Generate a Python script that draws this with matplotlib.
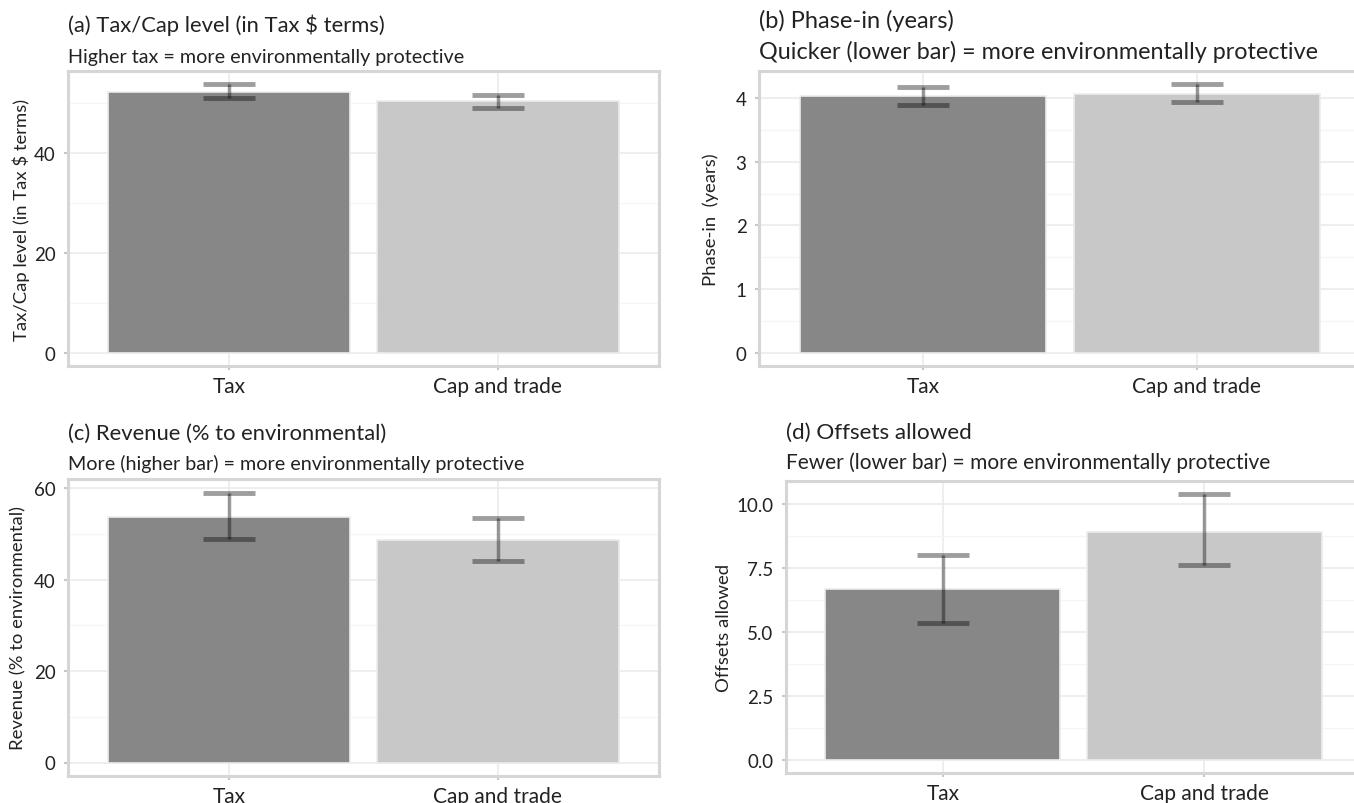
import numpy as np
import matplotlib
matplotlib.use("Agg")
from matplotlib import pyplot as plt
from matplotlib.ticker import MultipleLocator, FormatStrFormatter

plt.rcParams['font.family'] = ['Lato', 'DejaVu Sans']

categories = ['Tax', 'Cap and trade']
bar_colors = ['#878787', '#c8c8c8']

# panel (a) tax/cap level
a_mean = [52.3, 50.5]
a_lo = [51.0, 49.1]
a_hi = [53.8, 51.7]
# panel (b) phase-in
b_mean = [4.04, 4.07]
b_lo = [3.90, 3.95]
b_hi = [4.18, 4.22]
# panel (c) revenue
c_mean = [53.8, 48.6]
c_lo = [49.0, 44.0]
c_hi = [59.1, 53.6]
# panel (d) offsets
d_mean = [6.68, 8.92]
d_lo = [5.37, 7.61]
d_hi = [8.0, 10.39]

panels = [
    ('(a) Tax/Cap level (in Tax $ terms)', 'Higher tax = more environmentally protective',
     'Tax/Cap level (in Tax $ terms)', a_mean, a_lo, a_hi, 20, 10, '%d'),
    ('(b) Phase-in (years)', 'Quicker (lower bar) = more environmentally protective',
     'Phase-in  (years)', b_mean, b_lo, b_hi, 1, 0.5, '%d'),
    ('(c) Revenue (% to environmental)', 'More (higher bar) = more environmentally protective',
     'Revenue (% to environmental)', c_mean, c_lo, c_hi, 20, 10, '%d'),
    ('(d) Offsets allowed', 'Fewer (lower bar) = more environmentally protective',
     'Offsets allowed', d_mean, d_lo, d_hi, 2.5, 1.25, '%.1f'),
]

W, H = 1354, 804
fig = plt.figure(figsize=(W / 100, H / 100), dpi=100)

# box edges in pixels: left, right, top, bottom
boxes = [(68, 659, 72, 367), (759, 1361, 72, 367),
         (68, 659, 480, 777), (786, 1361, 482, 774)]
ylab_x = [21, 711, 18, 724]
title_y = [[25, 57], [21, 52], [434, 464], [433, 463]]
title_size = [15.8, 17, 15.8, 16.2]
sub_size = [14.2, 16.8, 14.2, 15]

for k, (title, sub, ylab, mean, lo, hi, major, minor, fmt) in enumerate(panels):
    l, r, t, b = boxes[k]
    ax = fig.add_axes([l / W, 1 - b / H, (r - l) / W, (b - t) / H])
    x = np.arange(1, len(categories) + 1)
    ax.bar(x, mean, width=0.9, color=bar_colors, edgecolor='#ececec', linewidth=1.2, zorder=2)
    yerr = [np.array(mean) - np.array(lo), np.array(hi) - np.array(mean)]
    ax.errorbar(x, mean, yerr=yerr, fmt='none', ecolor='black', alpha=0.38,
                elinewidth=2.5, capsize=19, capthick=3.5, zorder=3)
    top = max(hi)
    ax.set_xlim(0.4, len(categories) + 0.6)
    ax.set_ylim(-0.05 * top, 1.05 * top)
    ax.set_xticks(x)
    ax.set_xticklabels(categories, fontsize=15)
    ax.yaxis.set_major_locator(MultipleLocator(major))
    ax.yaxis.set_minor_locator(MultipleLocator(minor))
    ax.yaxis.set_major_formatter(FormatStrFormatter(fmt))
    ax.grid(which='major', color='#ebebeb', linewidth=1.2, zorder=0)
    ax.grid(which='minor', axis='y', color='#f5f5f5', linewidth=1, zorder=0)
    ax.set_axisbelow(True)
    for s in ax.spines.values():
        s.set_color('#d6d6d6')
        s.set_linewidth(2.2)
    ax.tick_params(which='major', length=3, width=1.5, color='#c8c8c8',
                   labelcolor='#222222', pad=4)
    ax.tick_params(axis='y', labelsize=13.5, pad=6)
    ax.tick_params(which='minor', length=0)
    fig.text(ylab_x[k] / W, 1 - (t + b) / 2 / H, ylab, rotation=90, ha='center',
             va='center', fontsize=13.3, color='#222222')
    fig.text(l / W, 1 - title_y[k][0] / H, title, ha='left', va='center',
             fontsize=title_size[k], color='#222222')
    fig.text(l / W, 1 - title_y[k][1] / H, sub, ha='left', va='center',
             fontsize=sub_size[k], color='#222222')

fig.savefig('out.png', dpi=100)
